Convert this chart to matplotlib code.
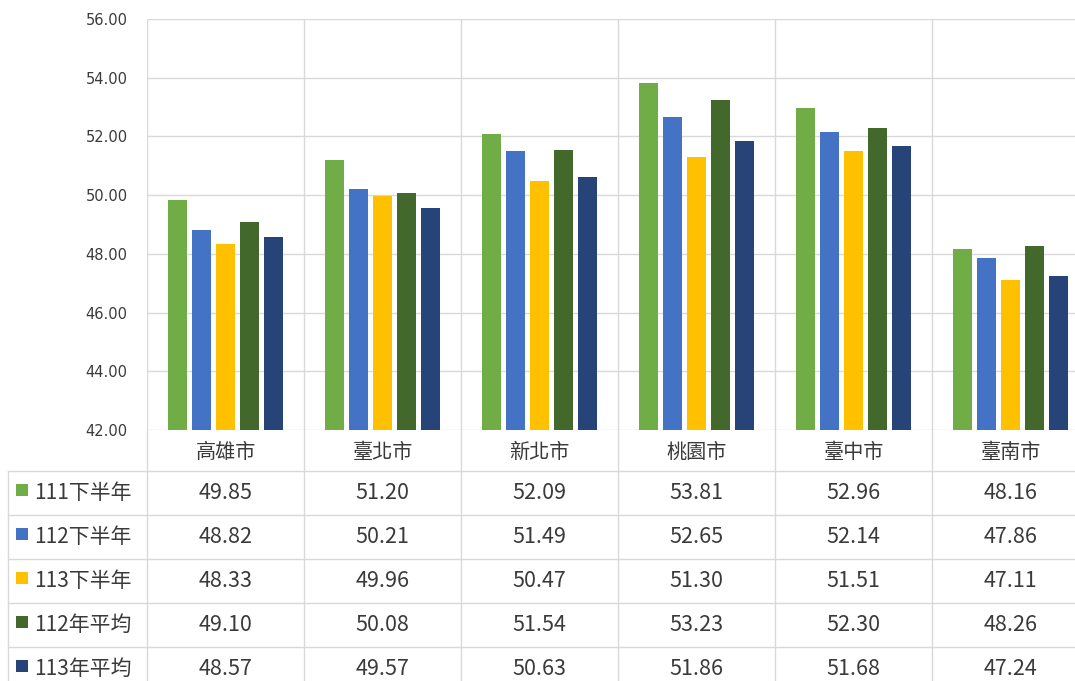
import matplotlib
matplotlib.use("Agg")
import matplotlib.pyplot as plt
import numpy as np

plt.rcParams['font.family'] = ['Noto Sans CJK TC', 'DejaVu Sans']

# data
cities = ["高雄市", "臺北市", "新北市", "桃園市", "臺中市", "臺南市"]
series_names = ["111下半年", "112下半年", "113下半年", "112年平均", "113年平均"]
v111h2 = [49.85, 51.20, 52.09, 53.81, 52.96, 48.16]
v112h2 = [48.82, 50.21, 51.49, 52.65, 52.14, 47.86]
v113h2 = [48.33, 49.96, 50.47, 51.30, 51.51, 47.11]
v112avg = [49.10, 50.08, 51.54, 53.23, 52.30, 48.26]
v113avg = [48.57, 49.57, 50.63, 51.86, 51.68, 47.24]
series = [v111h2, v112h2, v113h2, v112avg, v113avg]
colors = ["#70AD47", "#4472C4", "#FFC000", "#43682B", "#264478"]

W, H = 1075, 681
grid_c = "#D9D9D9"
txt_c = "#3A3A3A"
col_px = 157.0
x0_px = 147.0

fig = plt.figure(figsize=(W / 100, H / 100), dpi=100)

# chart area (last column runs past the right edge, like the source)
ax = fig.add_axes([x0_px / W, 1 - 430 / H, 6 * col_px / W, (430 - 19) / H])
x = np.arange(len(cities))
bw, step = 0.12, 0.153
for k, (vals, c) in enumerate(zip(series, colors)):
    ax.bar(x + (k - 2) * step, vals, width=bw, color=c, zorder=3)

ax.set_xlim(-0.5, 5.5)
ax.set_ylim(42, 56)
ticks = np.arange(42, 57, 2)
ax.set_yticks(ticks)
ax.set_yticklabels([f"{t:.2f}" for t in ticks], fontsize=10.5,
                   color=txt_c, family="DejaVu Sans")
ax.tick_params(axis="y", length=0, pad=14)
ax.set_xticks([])
ax.grid(axis="y", color=grid_c, lw=1, zorder=0)
for xv in np.arange(-0.5, 6, 1):
    ax.axvline(xv, color=grid_c, lw=1, zorder=0)
for s in ax.spines.values():
    s.set_visible(False)

# data table underneath
tab = fig.add_axes([0, 0, (x0_px + 6 * col_px) / W, 251 / H])
left = -0.5 - x0_px / col_px
tab.set_xlim(left, 5.5)
tab.set_ylim(251, 0)
tab.axis("off")

border_x = -0.5 - 139 / col_px
row_top = 41
row_h = 44
for r in range(len(series_names) + 1):
    y = row_top + r * row_h
    tab.plot([border_x, 5.5], [y, y], color=grid_c, lw=1)
for xv in np.arange(-0.5, 6, 1):
    tab.plot([xv, xv], [0, 251], color=grid_c, lw=1)
tab.plot([border_x, border_x], [row_top, 251], color=grid_c, lw=1)

for i, name in enumerate(cities):
    tab.text(i, 22, name, ha="center", va="center", fontsize=14.5, color=txt_c)

for r, (name, vals, c) in enumerate(zip(series_names, series, colors)):
    yc = row_top + r * row_h + row_h / 2
    tab.plot(border_x + 14 / col_px, yc - 3, marker="s", ms=8.5, color=c, mew=0)
    tab.text(border_x + 26 / col_px, yc, name, ha="left", va="center",
             fontsize=15, color=txt_c)
    for i, v in enumerate(vals):
        tab.text(i, yc, f"{v:.2f}", ha="center", va="center", fontsize=15.5,
                 color=txt_c)

fig.savefig("out.png", dpi=100)
